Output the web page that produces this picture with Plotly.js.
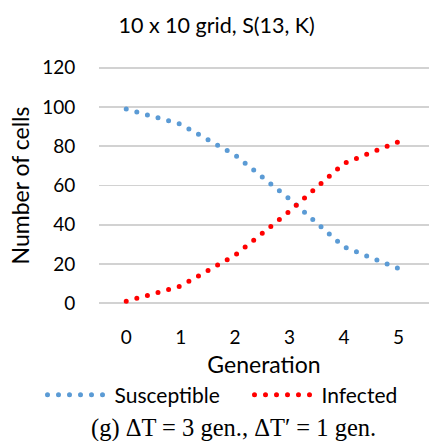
<!DOCTYPE html>
<html>
<head>
<meta charset="utf-8">
<script src="https://cdn.plot.ly/plotly-3.0.1.min.js"></script>
<style>
html,body{margin:0;padding:0;background:#fff;}
#chart{width:429px;height:441px;}
.js-line, .legendlines path { stroke-linecap: round; }
</style>
</head>
<body>
<div id="chart"></div>
<script>
var generation = [0, 1, 2, 3, 4, 5];
var susceptible = [99, 91.2, 75.5, 53.1, 28.7, 17.7];
var infected = [1, 8.8, 24.5, 46.9, 71.3, 82.3];
var xTicks = [0, 1, 2, 3, 4, 5];
var yTicks = [0, 20, 40, 60, 80, 100, 120];

var FONT = 'Lato, "Open Sans", sans-serif';
var dotDash = '0px,11px';

var traces = [
  {x: generation, y: susceptible, name: 'Susceptible', type: 'scatter', mode: 'lines',
   legend: 'legend',
   line: {color: '#5B9BD5', width: 5, dash: dotDash}},
  {x: generation, y: infected, name: 'Infected', type: 'scatter', mode: 'lines',
   legend: 'legend2',
   line: {color: '#FF0000', width: 5, dash: dotDash}}
];

var legendY = -(395 - 305) / 239;
var legendCommon = {orientation: 'h', xanchor: 'left', y: legendY, yanchor: 'middle',
  font: {family: FONT, size: 21, color: '#000'}, itemwidth: 62, bgcolor: 'rgba(0,0,0,0)'};

var layout = {
  width: 429, height: 441,
  margin: {l: 99, r: 0, t: 66, b: 136},
  paper_bgcolor: '#fff', plot_bgcolor: '#fff',
  font: {family: FONT, size: 19, color: '#000'},
  title: {text: '10 x 10 grid, S(13, K)', font: {family: FONT, size: 21.5, color: '#000'},
          x: 0.505, xanchor: 'center', y: 1 - 25/441, yanchor: 'middle', yref: 'container'},
  xaxis: {range: [-0.5, 5.56], tickvals: xTicks, ticktext: xTicks.map(String),
          showgrid: false, zeroline: false, showline: false,
          ticks: 'outside', ticklen: 15, tickcolor: 'rgba(0,0,0,0)',
          title: {text: 'Generation', font: {family: FONT, size: 23}, standoff: 10}},
  yaxis: {range: [-0.87, 120.87], tickvals: yTicks, ticktext: yTicks.map(String),
          showgrid: true, gridcolor: '#d2d2d2', gridwidth: 1.6, zeroline: false,
          showline: false, ticks: 'outside', ticklen: 19, tickcolor: 'rgba(0,0,0,0)',
          title: {text: 'Number of cells', font: {family: FONT, size: 23}, standoff: 6}},
  showlegend: true,
  legend: Object.assign({}, legendCommon, {x: (42.5 - 99) / 330}),
  legend2: Object.assign({}, legendCommon, {x: (249.5 - 99) / 330}),
  annotations: [
    {text: '(g) \u0394T = 3 gen., \u0394T\u2032 = 1 gen.', xref: 'paper', yref: 'paper',
     x: (233 - 99) / 330, y: -(428 - 305) / 239, xanchor: 'center', yanchor: 'middle',
     showarrow: false, font: {family: '"Liberation Serif", "DejaVu Serif", serif', size: 24.5, color: '#000'}}
  ]
};

Plotly.newPlot('chart', traces, layout, {staticPlot: true, displayModeBar: false});
</script>
</body>
</html>
